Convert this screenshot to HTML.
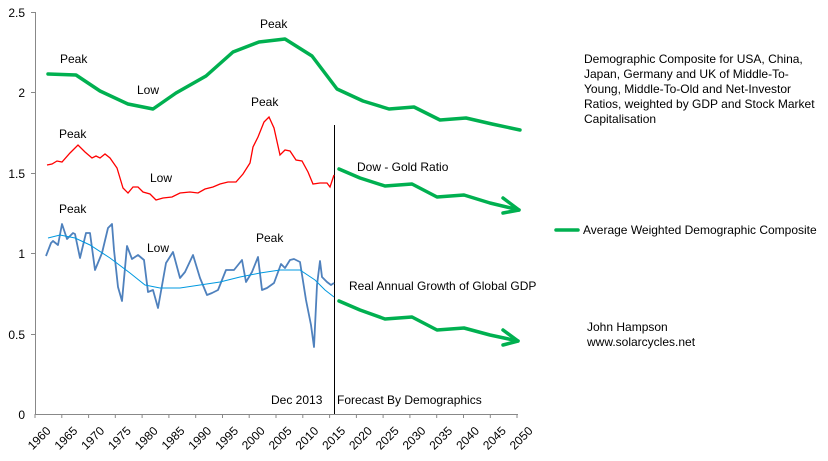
<!DOCTYPE html>
<html><head><meta charset="utf-8"><style>
html,body{margin:0;padding:0;background:#fff;}
svg text{font-family:"Liberation Sans",sans-serif;font-size:12px;fill:#000;}
</style></head><body>
<svg width="828" height="456" viewBox="0 0 828 456" xmlns="http://www.w3.org/2000/svg">
<g stroke="#888" stroke-width="1" fill="none">
<line x1="35.5" y1="12" x2="35.5" y2="414"/>
<line x1="35" y1="414.5" x2="518" y2="414.5"/>
<line x1="31" y1="12.5" x2="35" y2="12.5"/><line x1="31" y1="92.5" x2="35" y2="92.5"/><line x1="31" y1="173.5" x2="35" y2="173.5"/><line x1="31" y1="253.5" x2="35" y2="253.5"/><line x1="31" y1="334.5" x2="35" y2="334.5"/>
<line x1="35" y1="414" x2="35" y2="418"/><line x1="61.8" y1="414" x2="61.8" y2="418"/><line x1="88.6" y1="414" x2="88.6" y2="418"/><line x1="115.3" y1="414" x2="115.3" y2="418"/><line x1="142.1" y1="414" x2="142.1" y2="418"/><line x1="168.9" y1="414" x2="168.9" y2="418"/><line x1="195.7" y1="414" x2="195.7" y2="418"/><line x1="222.5" y1="414" x2="222.5" y2="418"/><line x1="249.2" y1="414" x2="249.2" y2="418"/><line x1="276" y1="414" x2="276" y2="418"/><line x1="302.8" y1="414" x2="302.8" y2="418"/><line x1="329.6" y1="414" x2="329.6" y2="418"/><line x1="356.4" y1="414" x2="356.4" y2="418"/><line x1="383.1" y1="414" x2="383.1" y2="418"/><line x1="409.9" y1="414" x2="409.9" y2="418"/><line x1="436.7" y1="414" x2="436.7" y2="418"/><line x1="463.5" y1="414" x2="463.5" y2="418"/><line x1="490.3" y1="414" x2="490.3" y2="418"/><line x1="517" y1="414" x2="517" y2="418"/>
</g>
<g text-anchor="end">
<text x="25" y="17">2.5</text><text x="25" y="97">2</text><text x="25" y="178">1.5</text><text x="25" y="258">1</text><text x="25" y="339">0.5</text><text x="25" y="419">0</text>
</g>
<g text-anchor="middle" font-size="12">
<text transform="translate(42,441) rotate(-45)">1960</text>
<text transform="translate(68.8,441) rotate(-45)">1965</text>
<text transform="translate(95.6,441) rotate(-45)">1970</text>
<text transform="translate(122.3,441) rotate(-45)">1975</text>
<text transform="translate(149.1,441) rotate(-45)">1980</text>
<text transform="translate(175.9,441) rotate(-45)">1985</text>
<text transform="translate(202.7,441) rotate(-45)">1990</text>
<text transform="translate(229.5,441) rotate(-45)">1995</text>
<text transform="translate(256.2,441) rotate(-45)">2000</text>
<text transform="translate(283,441) rotate(-45)">2005</text>
<text transform="translate(309.8,441) rotate(-45)">2010</text>
<text transform="translate(336.6,441) rotate(-45)">2015</text>
<text transform="translate(363.4,441) rotate(-45)">2020</text>
<text transform="translate(390.1,441) rotate(-45)">2025</text>
<text transform="translate(416.9,441) rotate(-45)">2030</text>
<text transform="translate(443.7,441) rotate(-45)">2035</text>
<text transform="translate(470.5,441) rotate(-45)">2040</text>
<text transform="translate(497.3,441) rotate(-45)">2045</text>
<text transform="translate(524,441) rotate(-45)">2050</text>
</g>
<line x1="334.5" y1="125" x2="334.5" y2="414" stroke="#000" stroke-width="1"/>
<g fill="none" stroke="#00b050" stroke-width="3.5" stroke-linejoin="round" stroke-linecap="round">
<polyline points="48,74 76,75 100,91 128,104 153,109 176,93 206,76 233,52 259,42 285,39 312,56 337,89 363,101 389,109 414,107 440,120 466,118 492,124 520,130"/>
<polyline points="339,169 360,178 385,186 412,184 437,197 464,195 490,203 519,210"/>
<polyline points="503,198 519,210 503,213"/>
<polyline points="339,301 360,310 385,319 412,317 437,330 464,328 490,335 518,341"/>
<polyline points="503,330 518,341 503,345"/>
<line x1="556" y1="230" x2="578" y2="230"/>
</g>
<polyline fill="none" stroke="#ff0000" stroke-width="1.3" points="47,165 52,164 57,161 62,162 70,153 78,145 85,152 92,158 96,156 100,158 105,154 110,158 117,168 123,188 128,193 133,187 138,187 143,192 150,194 156,200 163,198 172,197 180,193 190,192 198,193 205,189 213,187 220,184 228,182 236,182 243,174 250,163 253,147 258,137 264,122 269,117 274,128 280,155 285,150 290,151 296,160 302,161 308,172 313,184 320,183 327,183 330,187 334,175"/>
<polyline fill="none" stroke="#4f81bd" stroke-width="1.8" stroke-linejoin="round" points="46,256 51,243 53,241 58,245 62,224 67,239 73,233 75,234 80,258 86,233 90,233 95,270 102,253 108,228 112,224 114,250 118,287 122,301 127,246 132,259 138,255 144,260 148,292 153,290 158,308 166,263 173,252 180,278 185,272 193,255 200,278 207,295 212,293 218,290 226,270 234,270 242,260 246,282 252,272 258,257 262,290 267,288 274,283 281,264 285,268 290,260 294,259 300,262 306,300 311,325 314,347 317,285 320,261 322,277 327,282 331,285 334,283"/>
<polyline fill="none" stroke="#0099e0" stroke-width="1" points="48,238 60,235 75,238 90,245 110,258 130,273 145,285 160,288 180,288 200,285 220,282 240,277 260,273 280,270 300,270 315,280 325,290 334,297"/>
<g>
<text x="60" y="63">Peak</text><text x="137" y="94">Low</text><text x="260" y="28">Peak</text>
<text x="59" y="138">Peak</text><text x="150" y="182">Low</text><text x="251" y="106">Peak</text>
<text x="59" y="213">Peak</text><text x="147" y="252">Low</text><text x="256" y="242">Peak</text>
<text x="357" y="171">Dow - Gold Ratio</text>
<text x="349" y="290">Real Annual Growth of Global GDP</text>
<text x="271" y="404">Dec 2013</text><text x="337" y="404">Forecast By Demographics</text>
<text x="584" y="63">Demographic Composite for USA, China,</text>
<text x="584" y="78">Japan, Germany and UK of Middle-To-</text>
<text x="584" y="93">Young, Middle-To-Old and Net-Investor</text>
<text x="584" y="108">Ratios, weighted by GDP and Stock Market</text>
<text x="584" y="123">Capitalisation</text>
<text x="583" y="234">Average Weighted Demographic Composite</text>
<text x="587" y="331">John Hampson</text>
<text x="587" y="346">www.solarcycles.net</text>
</g>
</svg>
</body></html>
